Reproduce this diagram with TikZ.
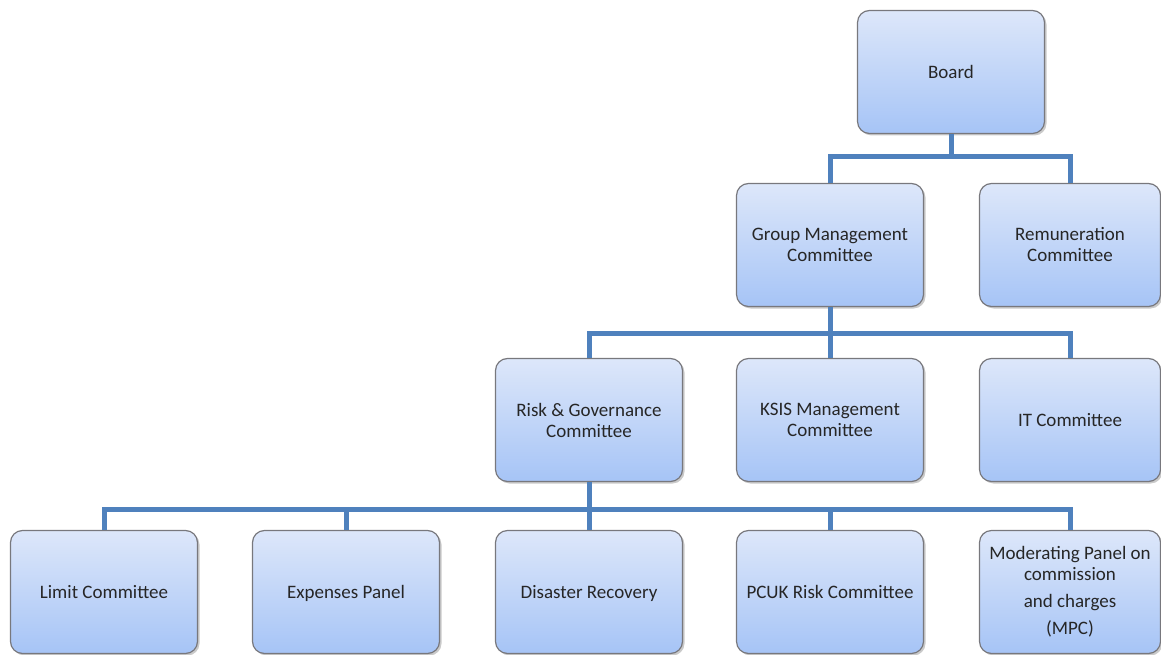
\documentclass[tikz,border=0pt]{standalone}
\usepackage{fontspec}
\setmainfont{Carlito}
\usetikzlibrary{shadows}
\definecolor{linkblue}{RGB}{79,129,189}
\definecolor{boxtop}{RGB}{221,231,250}
\definecolor{boxbot}{RGB}{166,196,246}
\definecolor{boxline}{RGB}{120,120,125}
\tikzset{
  unit/.style={rectangle,rounded corners=12pt,draw=boxline,line width=1.2pt,
    top color=boxtop,bottom color=boxbot,minimum width=187pt,minimum height=123pt,
    align=center,text=black!85,inner sep=2pt,
    font=\fontsize{19}{21}\selectfont,
    drop shadow={shadow xshift=2pt,shadow yshift=-2pt,opacity=0.35,fill=black!60}},
  narrow/.style={unit,minimum width=181pt},
  oneline/.style={text height=14pt,text depth=1pt}
}
\tikzset{link/.style={draw=linkblue,line width=5pt}}

\begin{document}
\begin{tikzpicture}[x=1pt,y=-1pt]
      \useasboundingbox (0,0) rectangle (1161,655);

      \node[unit,oneline] (board) at (951,72) {Board};
      \node[unit] (gmc) at (830,245) {Group Management\\Committee};
      \node[narrow] (rem) at (1070,245) {Remuneration\\Committee};
      \node[unit] (rgc) at (589,420) {Risk \& Governance\\Committee};
      \node[unit] (ksis) at (830,420) {KSIS Management\\Committee};
      \node[narrow,oneline] (itc) at (1070,420) {IT Committee};
      \node[unit,oneline] (limit) at (104,592) {Limit Committee};
      \node[unit,oneline] (exp) at (346,592) {Expenses Panel};
      \node[unit,oneline] (dis) at (589,592) {Disaster Recovery};
      \node[unit,oneline] (pcuk) at (830,592) {PCUK Risk Committee};
      \node[narrow] (mpc) at (1070,592) {Moderating Panel on\\commission\\[6pt]and charges\\[6pt](MPC)};

      \coordinate (b1) at (951,157);
      \coordinate (b2) at (830,333);
      \coordinate (b3) at (589,509);

      \begin{scope}[on background layer/.try]
      \draw[link] (board.south) -- (b1);
      \draw[link] (gmc.north) |- (b1) -| (rem.north);
      \draw[link] (gmc.south) -- (b2);
      \draw[link] (rgc.north) |- (b2) -| (itc.north);
      \draw[link] (b2) -- (ksis.north);
      \draw[link] (rgc.south) -- (b3);
      \draw[link] (limit.north) |- (b3) -| (mpc.north);
      \draw[link] (exp.north |- b3) -- (exp.north);
      \draw[link] (b3) -- (dis.north);
      \draw[link] (pcuk.north |- b3) -- (pcuk.north);
      \end{scope}
    \end{tikzpicture}
\end{document}
